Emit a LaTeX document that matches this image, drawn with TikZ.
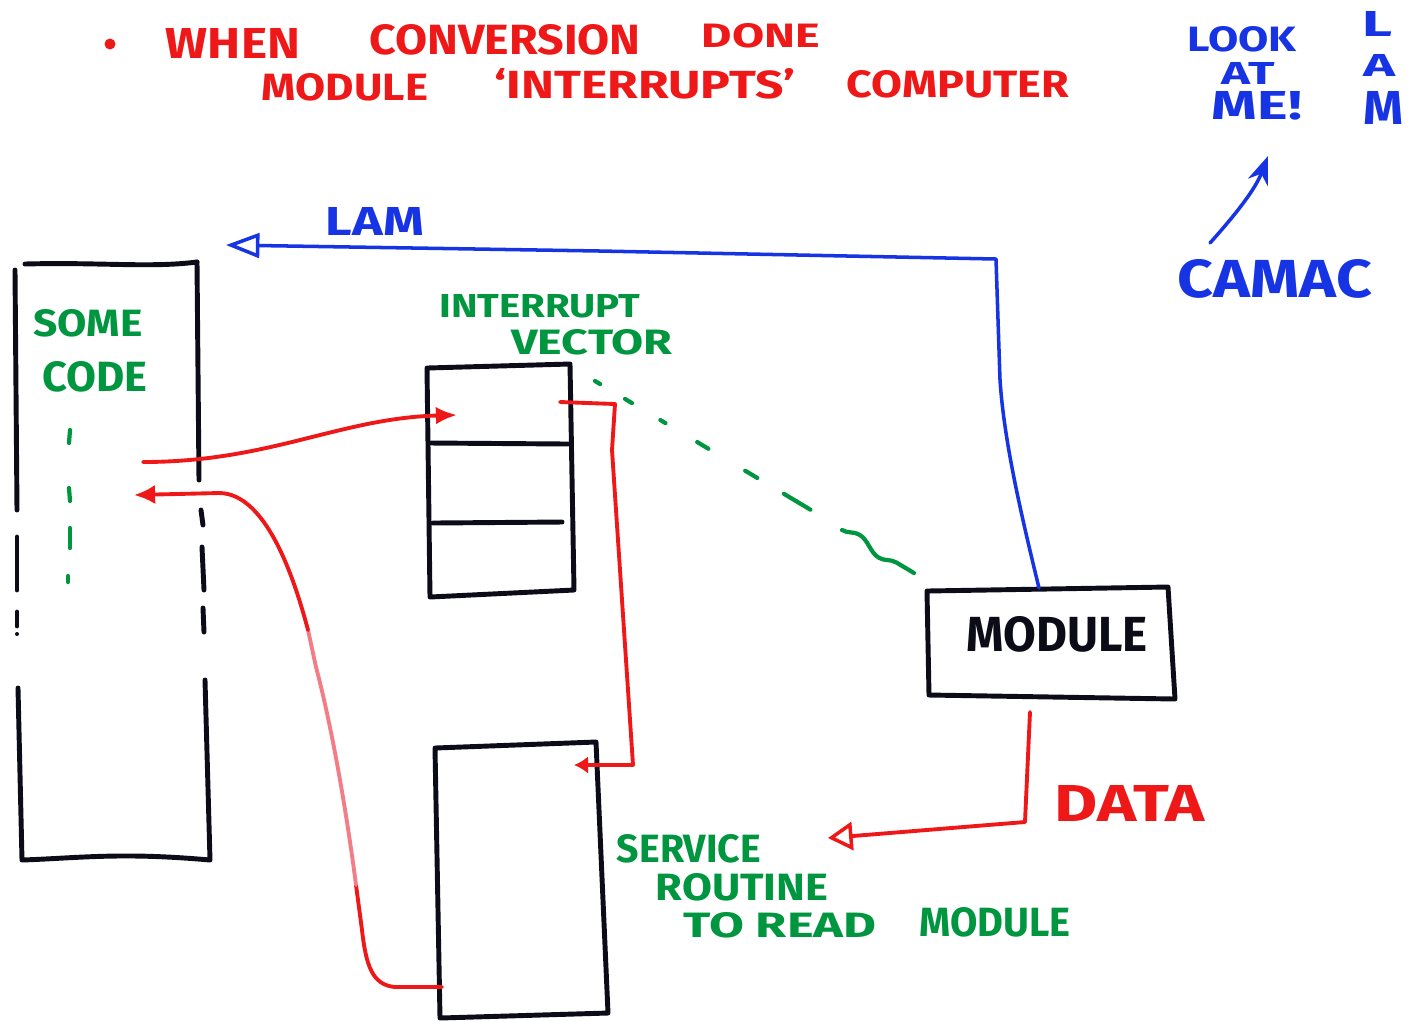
\documentclass[tikz,border=0pt]{standalone}
\usepackage{graphicx}
\usepackage{fontspec}
\setmainfont{Fira Sans}
\usetikzlibrary{arrows.meta,decorations.pathmorphing}

% one drawing unit is 0.1 mm
\newlength\pxu
\setlength\pxu{0.1mm}
% lettering squeezed into a box of given width and cap height
\newcommand\handtext[3]{\resizebox{#1\pxu}{#2\pxu}{\bfseries #3}}

\definecolor{mred}{RGB}{238,24,24}
\definecolor{mpink}{RGB}{242,125,135}
\definecolor{mgreen}{RGB}{0,150,64}
\definecolor{mblue}{RGB}{22,52,228}
\definecolor{mblack}{RGB}{12,12,24}

\begin{document}
\begin{tikzpicture}[x=0.01cm,y=-0.01cm,
  box/.style={draw=mblack,line width=1.4pt,line join=round,line cap=round},
  redline/.style={draw=mred,line width=1.1pt,line cap=round,line join=round},
  blueline/.style={draw=mblue,line width=1pt,line cap=round,line join=round},
  greenmark/.style={draw=mgreen,line width=1.2pt,line cap=round},
  txt/.style={inner sep=0pt,outer sep=0pt},
  redtxt/.style={txt,text=mred},
  greentxt/.style={txt,text=mgreen},
  bluetxt/.style={txt,text=mblue},
  blacktxt/.style={txt,text=mblack}]

\fill[white] (0,0) rectangle (1421,1020);
\useasboundingbox (0,0) rectangle (1421,1020);

% ---------- heading ----------
\fill[mred] (110,44) circle (5.5);
\node[redtxt] (when) at (233,43) {\handtext{134}{30}{WHEN}};
\node[redtxt] (conversion) at (505,40) {\handtext{271}{30}{CONVERSION}};
\node[redtxt] (done) at (761,36) {\handtext{118}{24}{DONE}};
\node[redtxt] (hmodule) at (345,87) {\handtext{166}{27}{MODULE}};
\node[redtxt] (interrupts) at (645,84) {\handtext{300}{30}{‘INTERRUPTS’}};
\node[redtxt] (computer) at (958,84) {\handtext{222}{27}{COMPUTER}};

% ---------- top right notes ----------
\node[bluetxt] (look) at (1242,39) {\handtext{109}{25}{LOOK}};
\node[bluetxt] (at) at (1248,73) {\handtext{53}{22}{AT}};
\node[bluetxt] (me) at (1257,106) {\handtext{90}{28}{ME!}};
\node[bluetxt] (lamL) at (1377,24) {\handtext{30}{25}{L}};
\node[bluetxt] (lamA) at (1379,65) {\handtext{32}{22}{A}};
\node[bluetxt] (lamM) at (1383,108) {\handtext{40}{33}{M}};
\node[bluetxt] (camac) at (1275,279) {\handtext{194}{38}{CAMAC}};
\coordinate (camacTop) at (1210,243);
\coordinate (lookBot) at (1268,156);
\draw[blueline,line width=1pt,-{Stealth[length=8pt,width=6pt]}]
  (camacTop) .. controls (1235,215) and (1255,190) .. (lookBot);

% ---------- program memory with some code ----------
\node[greentxt] (some) at (88,323) {\handtext{109}{27}{SOME}};
\node[greentxt] (code) at (95,377) {\handtext{105}{30}{CODE}};
\draw[box] (25,264) .. controls (100,262) and (150,268) .. (197,262);
\draw[box] (15,270) -- (17,510);
\draw[box] (197,262) -- (199,480);
\draw[box] (201,510) -- (203,525);
\draw[box] (202,547) -- (204,590);
\draw[box] (203,608) -- (204,632);
\draw[box] (17,537) -- (17,590);
\draw[box] (17,612) -- (17,626);
\fill[mblack] (17,634) circle (2);
\draw[box] (18,688) -- (22,860) .. controls (80,858) and (120,852) .. (210,860) -- (205,680);
\draw[greenmark] (70,430) -- (69,443);
\draw[greenmark] (69,488) -- (70,501);
\draw[greenmark] (70,528) -- (70,548);
\draw[greenmark] (68,576) -- (68,582);

% ---------- interrupt vector table ----------
\node[greentxt] (irq) at (540,306) {\handtext{201}{23}{INTERRUPT}};
\node[greentxt] (vector) at (592,342) {\handtext{161}{25}{VECTOR}};
\coordinate (vTL) at (427,368);
\coordinate (vTR) at (570,364);
\coordinate (vBR) at (574,590);
\coordinate (vBL) at (430,597);
\draw[box] (vTL) -- (vTR) -- (vBR) -- (vBL) -- cycle;
\draw[box] (431,443) -- (568,444);
\draw[box] (433,523) -- (562,522);

% ---------- service routine ----------
\coordinate (sTL) at (435,748);
\coordinate (sTR) at (596,742);
\coordinate (sBR) at (608,1013);
\coordinate (sBL) at (440,1018);
\draw[box] (sTL) -- (sTR) -- (sBR) -- (sBL) -- cycle;
\node[greentxt] (service) at (689,849) {\handtext{144}{28}{SERVICE}};
\node[greentxt] (routine) at (742,887) {\handtext{172}{27}{ROUTINE}};
\node[greentxt] (toread) at (780,925) {\handtext{193}{25}{TO READ}};
\node[greentxt] (smodule) at (995,922) {\handtext{151}{29}{MODULE}};

% ---------- module ----------
\coordinate (mTL) at (927,591);
\coordinate (mTR) at (1168,587);
\coordinate (mBR) at (1175,699);
\coordinate (mBL) at (929,695);
\draw[box] (mTL) -- (mTR) -- (mBR) -- (mBL) -- cycle;
\node[blacktxt] (module) at (1057,634) {\handtext{181}{35}{MODULE}};

% ---------- LAM line ----------
\node[bluetxt] (lam) at (375,221) {\handtext{98}{28}{LAM}};
\coordinate (modTop) at (1039,588);
\coordinate (lamTip) at (226,245);
\draw[blueline,-{Triangle[open,length=9.5pt,width=7pt,line width=1pt]}]
  (modTop) .. controls (1020,510) and (1004,440) .. (1000,380)
  -- (996,259) -- (600,251) -- (lamTip);

% ---------- interrupt flow ----------
\coordinate (irqFrom) at (143,462);
\coordinate (irqTo) at (457,415);
\draw[redline,-{Latex[length=6pt,width=5pt]}]
  (irqFrom) .. controls (270,462) and (340,418) .. (irqTo);

\coordinate (vecOut) at (560,402);
\coordinate (svcIn) at (574,765);
\draw[redline,-{Latex[length=4pt,width=5pt]}]
  (vecOut) -- (615,404) -- (612,450) -- (633,765) -- (svcIn);

\coordinate (svcOut) at (442,987);
\coordinate (retTo) at (134,495);
\draw[redline] (svcOut) -- (395,987) .. controls (372,985) and (366,965) .. (362,930) -- (356,885);
\draw[redline,draw=mpink] (356,885) .. controls (345,800) and (330,720) .. (316,667) -- (308,630);
\draw[redline,-{Latex[length=6pt,width=5.5pt]}]
  (308,630) .. controls (296,585) and (268,493) .. (219,493) -- (retTo);

% ---------- module to vector (dashed) ----------
\draw[greenmark,dash pattern=on 1.7pt off 8.25pt on 2.3pt off 9.4pt on 1.7pt off 10.5pt on 3.7pt off 12.2pt on 4pt off 8.8pt on 8.8pt off 50pt]
  (595,381) -- (811,510);
\coordinate (modCorner) at (914,573);
\draw[greenmark,decorate,decoration={snake,amplitude=1.4pt,segment length=16pt}]
  (842,530) -- (modCorner);

% ---------- data ----------
\node[redtxt] (data) at (1130,803) {\handtext{150}{36}{DATA}};
\coordinate (modBot) at (1030,712);
\coordinate (dataTip) at (828,838);
\draw[redline,-{Triangle[open,length=7pt,width=8pt,line width=1pt]}]
  (modBot) -- (1025,822) -- (dataTip);

\end{tikzpicture}
\end{document}
